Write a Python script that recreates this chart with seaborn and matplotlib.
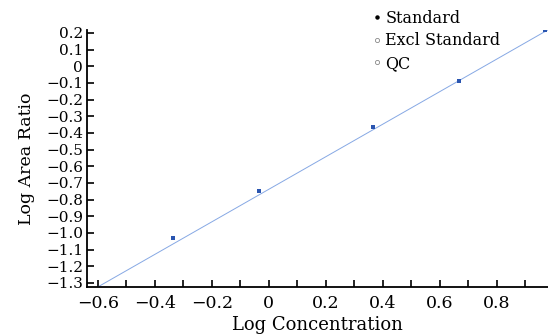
import numpy as np
import pandas as pd
import matplotlib
matplotlib.use("Agg")
import matplotlib.pyplot as plt
import seaborn as sns
from matplotlib.lines import Line2D

# Dados
log_conc = [-0.337, -0.035, 0.366, 0.667, 0.968]
log_area = [-1.03, -0.748, -0.362, -0.086, 0.218]
slope = 0.976
intercept = -0.738
x_ticks = [-0.6, -0.4, -0.2, 0, 0.2, 0.4, 0.6, 0.8]
x_labels = ["\u22120.6", "\u22120.4", "\u22120.2", "0", "0.2", "0.4", "0.6", "0.8"]
y_ticks = [0.2, 0.1, 0, -0.1, -0.2, -0.3, -0.4, -0.5, -0.6, -0.7, -0.8, -0.9, -1.0, -1.1, -1.2, -1.3]
y_labels = ["0.2", "0.1", "0"] + ["\u2212%.1f" % abs(v) for v in y_ticks[3:]]
legend_names = ["Standard", "Excl Standard", "QC"]

df = pd.DataFrame({"Conc": log_conc, "Area": log_area})
fit_x = np.array([-0.7, 1.05])
df_fit = pd.DataFrame({"Conc": fit_x, "Area": slope * fit_x + intercept})

sns.set_style("ticks")
plt.rcParams["font.family"] = ["DejaVu Serif"]
plt.rcParams["text.color"] = "black"
plt.rcParams["axes.labelcolor"] = "black"
plt.rcParams["xtick.color"] = "black"
plt.rcParams["ytick.color"] = "black"

fig = plt.figure(figsize=(5.48, 3.36), dpi=100)
ax = fig.add_axes([0.159, 0.146, 0.841, 0.765])

# Linha de regressao
sns.lineplot(data=df_fit, x="Conc", y="Area", ax=ax, color="#86a8e4", linewidth=0.7)
# Pontos padrao
sns.scatterplot(data=df, x="Conc", y="Area", ax=ax, color="#2a55b0",
                marker="s", s=5, linewidth=0, zorder=3)

ax.set_xlim(-0.638, 0.98)
ax.set_ylim(-1.324, 0.218)
ax.set_xticks(x_ticks)
ax.set_xticklabels(x_labels, fontsize=12.5)
ax.set_xticks(np.arange(-0.6, 0.95, 0.1), minor=True)
ax.set_yticks(y_ticks)
ax.set_yticklabels(y_labels, fontsize=11)
ax.tick_params(direction="in", length=5, width=1.2, color="black")
ax.tick_params(which="minor", direction="in", length=5, width=1.2, color="black")
ax.tick_params(axis="x", pad=6)
ax.tick_params(axis="y", pad=3)
for s in ["left", "bottom"]:
    ax.spines[s].set_linewidth(1.3)
    ax.spines[s].set_color("black")
sns.despine(ax=ax)

ax.set_xlabel("Log Concentration", fontsize=13, labelpad=3)
ax.set_ylabel("Log Area Ratio", fontsize=12.5, labelpad=8)

handles = [
    Line2D([], [], marker="o", linestyle="", color="black", markersize=2.2),
    Line2D([], [], marker="o", linestyle="", markerfacecolor="none", markeredgecolor="#888888", markersize=3, markeredgewidth=0.6),
    Line2D([], [], marker="o", linestyle="", markerfacecolor="none", markeredgecolor="#888888", markersize=3, markeredgewidth=0.6),
]
fig.legend(handles, legend_names, loc="upper left", bbox_to_anchor=(0.665, 1.0),
           frameon=False, fontsize=11.5, handlelength=0.4, handletextpad=0.3,
           labelspacing=0.35, borderaxespad=0.2)

fig.savefig("out.png", dpi=100)
